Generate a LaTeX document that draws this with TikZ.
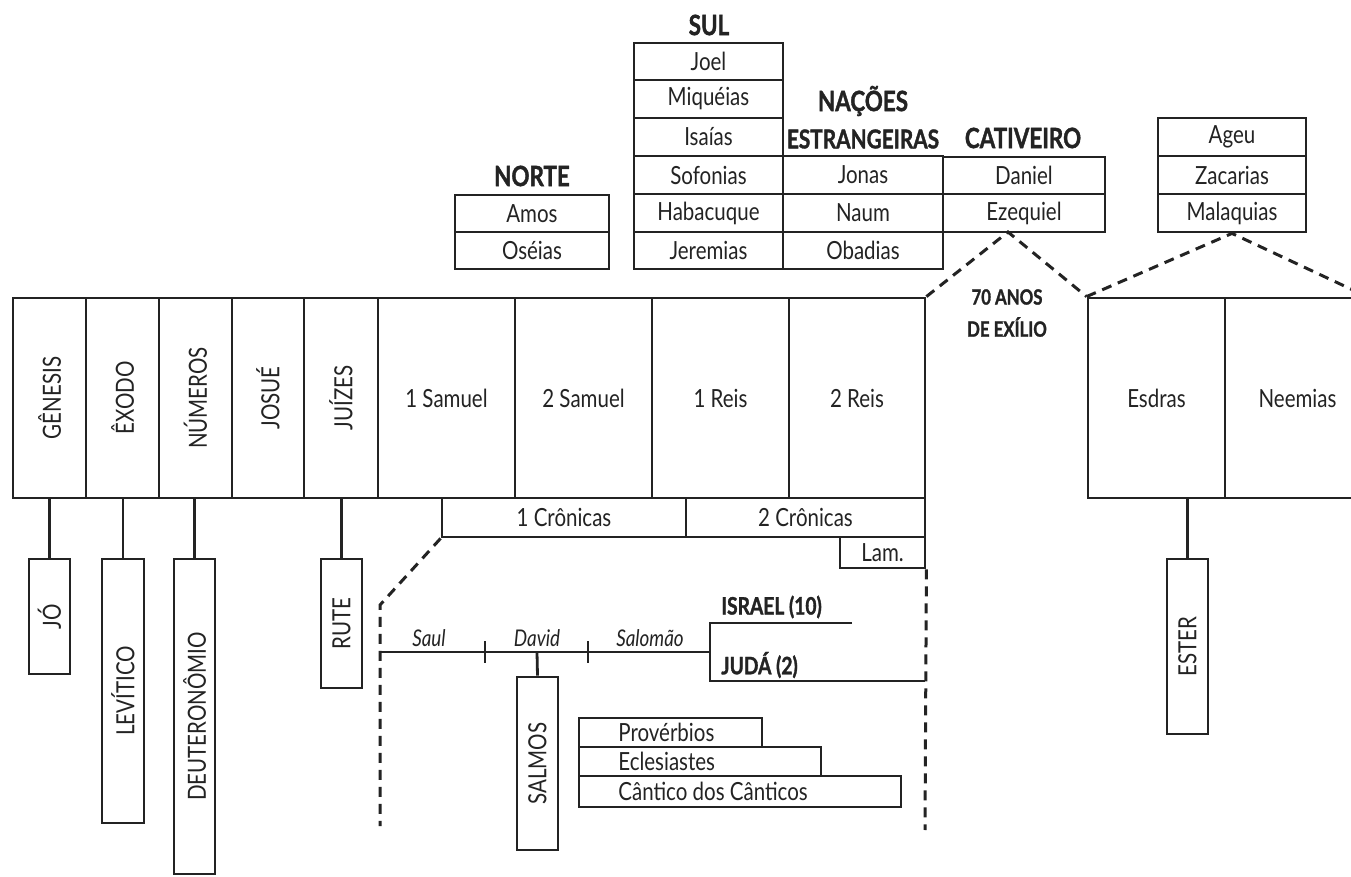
\documentclass[tikz,border=0pt]{standalone}
\usepackage{fontspec}
\setmainfont{Lato}[FakeStretch=0.82]
\newfontfamily\headfont{Lato}[FakeStretch=0.8, BoldFeatures={FakeBold=1.3}]
\usepackage{graphicx}
\definecolor{ink}{RGB}{35,35,35}
\tikzset{
  box/.style={draw=ink, line width=1.4pt, inner sep=0pt, text=ink, font=\fontsize{12.5}{13}\selectfont},
  conn/.style={draw=ink, line width=1.4pt},
  dsh/.style={draw=ink, line width=1.5pt, dash pattern=on 5pt off 3.5pt},
  head/.style={text=ink, inner sep=0pt, font=\fontsize{14}{15}\headfont\bfseries},
  subhead/.style={text=ink, inner sep=0pt, font=\fontsize{13}{14}\headfont\bfseries},
  small/.style={text=ink, inner sep=0pt, font=\fontsize{10.5}{12}\headfont\bfseries},
  lbl/.style={text=ink, inner sep=0pt, font=\fontsize{12.5}{13}\selectfont},
  ital/.style={text=ink, inner sep=0pt, font=\fontsize{11.5}{12}\selectfont\itshape},
  king/.style={text=ink, inner sep=0pt, font=\fontsize{12}{13}\headfont\bfseries},
}
\newcommand\bx[7][]{%
  \pgfmathsetmacro\bxcx{(#3+#5)/2}%
  \pgfmathsetmacro\bxcy{(#4+#6)/2}%
  \pgfmathsetmacro\bxw{abs(#5-#3)*0.5}%
  \pgfmathsetmacro\bxh{abs(#6-#4)*0.5}%
  \node[box,minimum width=\bxw pt,minimum height=\bxh pt,#1] (#2) at (\bxcx,\bxcy) {#7};}
\newcommand\vt[1]{\rotatebox{90}{#1}}
\begin{document}
\begin{tikzpicture}[x=0.5pt,y=-0.5pt]
\clip (0,0) rectangle (1351,877);
\fill[white] (0,0) rectangle (1351,877);

% ---------- top groups ----------
\node[head] (norte) at (532,176) {NORTE};
\bx{amos}{455}{195}{609}{232}{Amos}
\bx{oseias}{455}{232}{609}{269}{Oséias}

\node[head] (sul) at (709,25) {SUL};
\bx{joel}{634}{43}{783}{80}{Joel}
\bx{miq}{634}{80}{783}{118}{Miquéias}
\bx{isa}{634}{118}{783}{156}{Isaías}
\bx{sof}{634}{156}{783}{194}{Sofonias}
\bx{hab}{634}{194}{783}{232}{Habacuque}
\bx{jer}{634}{232}{783}{269}{Jeremias}

\node[head] (nacoes) at (863,101) {NAÇÕES};
\node[subhead] (estr) at (863,139) {ESTRANGEIRAS};
\bx{jonas}{783}{156}{943}{194}{Jonas}
\bx{naum}{783}{194}{943}{232}{Naum}
\bx{obad}{783}{232}{943}{269}{Obadias}

\node[head] (cativ) at (1023,138) {CATIVEIRO};
\bx{daniel}{943}{157}{1105}{194}{Daniel}
\bx{ezeq}{943}{194}{1105}{232}{Ezequiel}

\bx{ageu}{1158}{118}{1306}{156}{Ageu}
\bx{zac}{1158}{156}{1306}{194}{Zacarias}
\bx{mal}{1158}{194}{1306}{232}{Malaquias}

% ---------- main row ----------
\bx{gen}{13}{298}{86}{498}{\vt{GÊNESIS}}
\bx{exo}{86}{298}{159}{498}{\vt{ÊXODO}}
\bx{num}{159}{298}{232}{498}{\vt{NÚMEROS}}
\bx{jos}{232}{298}{304}{498}{\vt{JOSUÉ}}
\bx{jui}{304}{298}{378}{498}{\vt{JUÍZES}}
\bx{sam1}{378}{298}{515}{498}{1 Samuel}
\bx{sam2}{515}{298}{652}{498}{2 Samuel}
\bx{reis1}{652}{298}{789}{498}{1 Reis}
\bx{reis2}{789}{298}{925}{498}{2 Reis}
\bx{cron1}{442}{498}{686}{537}{1 Crônicas}
\bx{cron2}{686}{498}{925}{537}{2 Crônicas}
\bx{lam}{840}{537}{925}{568}{Lam.}

\bx{esdras}{1088}{298}{1225}{498}{Esdras}
\bx{neem}{1225}{298}{1370}{498}{Neemias}

\node[small] (anos) at (1007,297) {70 ANOS};
\node[small] (exilio) at (1007,327) {DE EXÍLIO};

% ---------- hanging boxes ----------
\bx{jo}{29}{559}{70}{674}{\vt{JÓ}}
\bx{lev}{102}{559}{144}{823}{\vt{LEVÍTICO}}
\bx{deut}{174}{559}{215}{874}{\vt{DEUTERONÔMIO}}
\bx{rute}{321}{559}{362}{688}{\vt{RUTE}}
\bx{ester}{1167}{559}{1208}{734}{\vt{ESTER}}

\draw[conn] (jo.north |- gen.south) -- (jo.north);
\draw[conn] (lev.north |- exo.south) -- (lev.north);
\draw[conn] (deut.north |- num.south) -- (deut.north);
\draw[conn] (rute.north |- jui.south) -- (rute.north);
\draw[conn] (ester.north |- esdras.south) -- (ester.north);

% ---------- dashed links ----------
\coordinate (apexE) at (1008,232);
\coordinate (farR) at (1370,298);
\draw[dsh] (reis2.north east) -- (apexE) -- (esdras.north west);
\draw[dsh] (esdras.north west) -- (mal.south) -- (farR);

\coordinate (bendL) at (380,605);
\coordinate (endL) at (380,826);
\coordinate (endR) at (925,830);
\draw[dsh] (cron1.south west) -- (bendL) -- (endL);
\draw[dsh] (lam.south east) -- (endR);

% ---------- kings timeline ----------
\coordinate (tl0) at (380,652);
\coordinate (brk) at (710,652);
\coordinate (brkT) at (710,623);
\coordinate (brkB) at (710,681);
\coordinate (isrE) at (852,623);
\coordinate (judE) at (925,681);
\draw[conn] (tl0) -- (brk);
\draw[conn] (isrE) -- (brkT) -- (brkB) -- (judE);
\coordinate (tk1) at (485,652);
\coordinate (tk2) at (588,652);
\draw[conn] ([yshift=5.5pt]tk1) -- ([yshift=-5.5pt]tk1);
\draw[conn] ([yshift=5.5pt]tk2) -- ([yshift=-5.5pt]tk2);

\node[ital] (saul) at (429,638) {Saul};
\node[ital] (david) at (537,638) {David};
\node[ital] (salomao) at (650,638) {Salomão};
\node[king, anchor=west] (israel) at (721,607) {ISRAEL (10)};
\node[king, anchor=west] (juda) at (721,665) {JUDÁ (2)};

\bx{salmos}{517}{677}{558}{850}{\vt{SALMOS}}
\coordinate (davidPt) at (537,652);
\draw[conn] (davidPt) -- (salmos.north);

\bx{prov}{579}{718}{762}{747}{}
\bx{ecl}{579}{747}{821}{776}{}
\bx{cant}{579}{776}{901}{807}{}
\node[lbl, anchor=west] (provT) at (618,732.5) {Provérbios};
\node[lbl, anchor=west] (eclT) at (618,761.5) {Eclesiastes};
\node[lbl, anchor=west] (cantT) at (618,791.5) {Cântico dos Cânticos};
\end{tikzpicture}
\end{document}
